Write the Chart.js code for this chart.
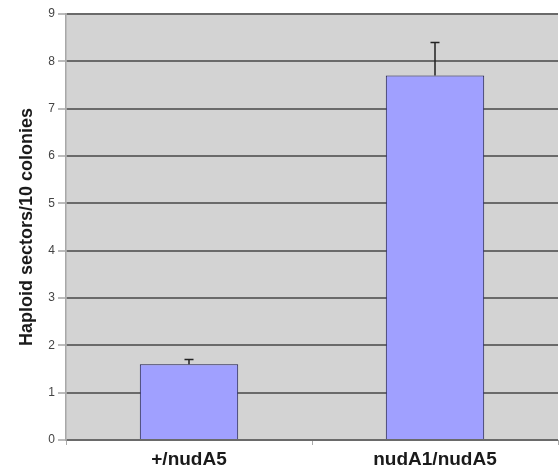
<!DOCTYPE html>
<html>
<head>
<meta charset="utf-8">
<script src="https://cdn.jsdelivr.net/npm/chart.js@4"></script>
<style>
html,body{margin:0;padding:0;background:#fff;}
#wrap{width:559px;height:470px;}
</style>
</head>
<body>
<div id="wrap"><canvas id="c" width="559" height="470"></canvas></div>
<script>
const categories = ['+/nudA5', 'nudA1/nudA5'];
const values = [1.6, 7.7];
const errors = [0.1, 0.7];
const yTicks = [0, 1, 2, 3, 4, 5, 6, 7, 8, 9];

const plotBg = {
  id: 'plotBg',
  beforeDraw(chart) {
    const {ctx, chartArea: a} = chart;
    ctx.save();
    ctx.fillStyle = '#d3d3d3';
    ctx.fillRect(a.left, a.top, a.right - a.left, a.bottom - a.top);
    ctx.restore();
  }
};

const errBars = {
  id: 'errBars',
  afterDatasetsDraw(chart) {
    const {ctx} = chart;
    const meta = chart.getDatasetMeta(0);
    const y = chart.scales.y;
    ctx.save();
    ctx.strokeStyle = '#222';
    ctx.lineWidth = 1.5;
    meta.data.forEach((bar, i) => {
      const x = bar.x;
      const yTop = y.getPixelForValue(values[i] + errors[i]);
      const yVal = y.getPixelForValue(values[i]);
      ctx.beginPath();
      ctx.moveTo(x, yVal);
      ctx.lineTo(x, yTop);
      ctx.moveTo(x - 4.5, yTop);
      ctx.lineTo(x + 4.5, yTop);
      ctx.stroke();
    });
    ctx.restore();
  }
};

new Chart(document.getElementById('c'), {
  type: 'bar',
  data: {
    labels: categories,
    datasets: [{
      data: values,
      backgroundColor: '#a0a0ff',
      borderColor: '#1c1c4a',
      borderWidth: 1,
      categoryPercentage: 0.4,
      barPercentage: 1.0
    }]
  },
  options: {
    responsive: false,
    animation: false,
    events: [],
    layout: {padding: {top: 14, right: 1, left: 0, bottom: 0}},
    plugins: {legend: {display: false}, tooltip: {enabled: false}},
    scales: {
      x: {
        grid: {drawOnChartArea: false, drawTicks: true, offset: true, tickLength: 5, color: '#aaa'},
        border: {display: false},
        ticks: {color: '#1a1a1a', font: {family: 'Liberation Sans, Arial, sans-serif', size: 19, weight: 'bold'}, padding: 3},
        afterFit(s) { s.height = 30; }
      },
      y: {
        min: 0, max: 9,
        afterBuildTicks(s) { s.ticks = yTicks.map(v => ({value: v})); },
        grid: {color: '#6a6a6a', lineWidth: 2, tickLength: 8, tickColor: '#bbb'},
        border: {display: true, color: '#a8a8a8', width: 1.5},
        ticks: {color: '#444', font: {family: 'Liberation Sans, Arial, sans-serif', size: 12}, padding: 3},
        title: {display: true, text: 'Haploid sectors/10 colonies', color: '#1a1a1a',
                font: {family: 'Liberation Sans, Arial, sans-serif', size: 18, weight: 'bold'}, padding: {top: 16, bottom: 6}},
        afterFit(s) { s.width = 66; }
      }
    }
  },
  plugins: [plotBg, errBars]
});
</script>
</body>
</html>
